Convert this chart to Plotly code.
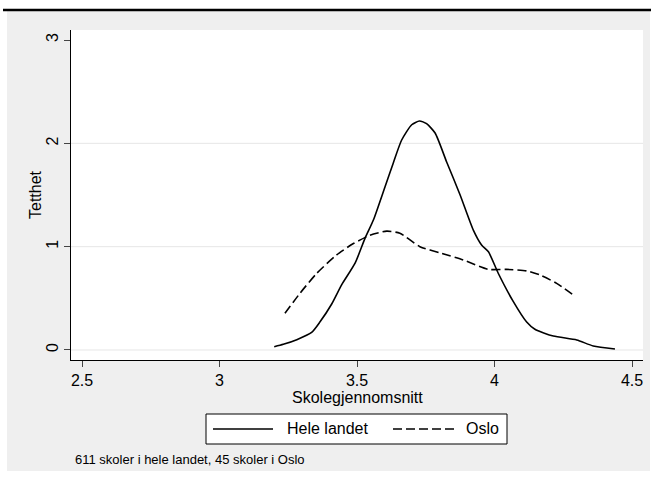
import plotly.graph_objects as go

# ---- data ----
hele_x = [3.199, 3.232, 3.281, 3.335, 3.365, 3.408, 3.444, 3.493, 3.529, 3.560, 3.602,
          3.632, 3.662, 3.699, 3.727, 3.753, 3.784, 3.826, 3.875, 3.923, 3.953, 3.978,
          4.014, 4.068, 4.117, 4.147, 4.214, 4.299, 4.359, 4.438]
hele_y = [0.032, 0.055, 0.10, 0.17, 0.27, 0.445, 0.63, 0.84, 1.08, 1.26, 1.58,
          1.81, 2.03, 2.18, 2.216, 2.19, 2.10, 1.82, 1.50, 1.16, 1.016, 0.95,
          0.74, 0.47, 0.27, 0.20, 0.135, 0.097, 0.039, 0.01]

oslo_x = [3.238, 3.293, 3.353, 3.426, 3.487, 3.547, 3.608, 3.656, 3.729, 3.802,
          3.887, 3.978, 4.044, 4.117, 4.165, 4.226, 4.293]
oslo_y = [0.355, 0.55, 0.74, 0.92, 1.03, 1.11, 1.15, 1.13, 1.00, 0.94,
          0.87, 0.78, 0.78, 0.765, 0.726, 0.645, 0.52]

series_names = ["Hele landet", "Oslo"]
x_ticks = [2.5, 3, 3.5, 4, 4.5]
x_ticktext = ["2.5", "3", "3.5", "4", "4.5"]
y_ticks = [0, 1, 2, 3]
y_ticktext = ["0", "1", "2", "3"]
y_grid = [0, 1, 2]
x_title = "Skolegjennomsnitt"
y_title = "Tetthet"
note = "611 skoler i hele landet, 45 skoler i Oslo"

# ---- layout geometry (pixels) ----
W, H = 651, 481
PL, PR, PT, PB = 71, 643, 30, 360
FONT = "Liberation Sans, Arial, sans-serif"


def px(x):
    return (x - PL) / (PR - PL)


def py(y):
    return (PB - y) / (PB - PT)


fig = go.Figure()
fig.add_trace(go.Scatter(x=hele_x, y=hele_y, mode="lines", name=series_names[0],
                         line=dict(color="black", width=1.6, shape="spline", smoothing=0.6),
                         showlegend=False))
fig.add_trace(go.Scatter(x=oslo_x, y=oslo_y, mode="lines", name=series_names[1],
                         line=dict(color="black", width=1.6, dash="9px,4px", shape="spline", smoothing=0.6),
                         showlegend=False))

shapes = [
    # grey outer region
    dict(type="rect", xref="paper", yref="paper", x0=px(7), x1=px(650), y0=py(471), y1=py(11),
         fillcolor="#efefef", line=dict(width=0), layer="below"),
    # white plot area
    dict(type="rect", xref="paper", yref="paper", x0=0, x1=1, y0=0, y1=1,
         fillcolor="white", line=dict(width=0), layer="below"),
]
# horizontal gridlines (none at the top value, as in the reference)
for g in y_grid:
    shapes.append(dict(type="line", xref="paper", yref="y", x0=0, x1=1, y0=g, y1=g,
                       line=dict(color="#e6e6e6", width=1), layer="below"))
shapes += [
    # top black rule
    dict(type="line", xref="paper", yref="paper", x0=px(3), x1=px(651), y0=py(10), y1=py(10),
         line=dict(color="black", width=2.5)),
    # legend box
    dict(type="rect", xref="paper", yref="paper", x0=px(206), x1=px(507), y0=py(444), y1=py(414),
         fillcolor="white", line=dict(color="black", width=1)),
    # legend samples
    dict(type="line", xref="paper", yref="paper", x0=px(213), x1=px(273), y0=py(429), y1=py(429),
         line=dict(color="black", width=1.6)),
    dict(type="line", xref="paper", yref="paper", x0=px(393), x1=px(456), y0=py(429), y1=py(429),
         line=dict(color="black", width=1.6, dash="9px,4px")),
]

annotations = [
    dict(text=series_names[0], xref="paper", yref="paper", x=px(285), y=py(429),
         xanchor="left", yanchor="middle", showarrow=False, font=dict(family=FONT, size=16, color="black")),
    dict(text=series_names[1], xref="paper", yref="paper", x=px(464), y=py(429),
         xanchor="left", yanchor="middle", showarrow=False, font=dict(family=FONT, size=16, color="black")),
    dict(text=note, xref="paper", yref="paper", x=px(73), y=py(459),
         xanchor="left", yanchor="middle", showarrow=False, font=dict(family=FONT, size=13, color="black")),
    dict(text=x_title, xref="paper", yref="paper", x=px(357), y=py(397),
         xanchor="center", yanchor="middle", showarrow=False, font=dict(family=FONT, size=16, color="black")),
    dict(text=y_title, xref="paper", yref="paper", x=px(35), y=py(195), textangle=-90,
         xanchor="center", yanchor="middle", showarrow=False, font=dict(family=FONT, size=16, color="black")),
]

fig.update_layout(
    width=W, height=H,
    margin=dict(l=PL, r=W - PR, t=PT, b=H - PB, pad=0),
    paper_bgcolor="white", plot_bgcolor="white",
    font=dict(family=FONT, size=16, color="black"),
    shapes=shapes, annotations=annotations,
    showlegend=False,
)
fig.update_xaxes(range=[2.46, 4.54], tickvals=x_ticks, ticktext=x_ticktext,
                 showline=True, linecolor="black", linewidth=1, ticks="outside", ticklen=6,
                 tickcolor="#444", tickwidth=1, showgrid=False, zeroline=False,
                 tickfont=dict(family=FONT, size=16, color="black"))
fig.update_yaxes(range=[-0.097, 3.097], tickvals=y_ticks, ticktext=y_ticktext, tickangle=-90,
                 showline=True, linecolor="black", linewidth=1, ticks="outside", ticklen=6,
                 tickcolor="#444", tickwidth=1, showgrid=False,
                 zeroline=False, tickfont=dict(family=FONT, size=16, color="black"))

fig.write_html("out.html")
